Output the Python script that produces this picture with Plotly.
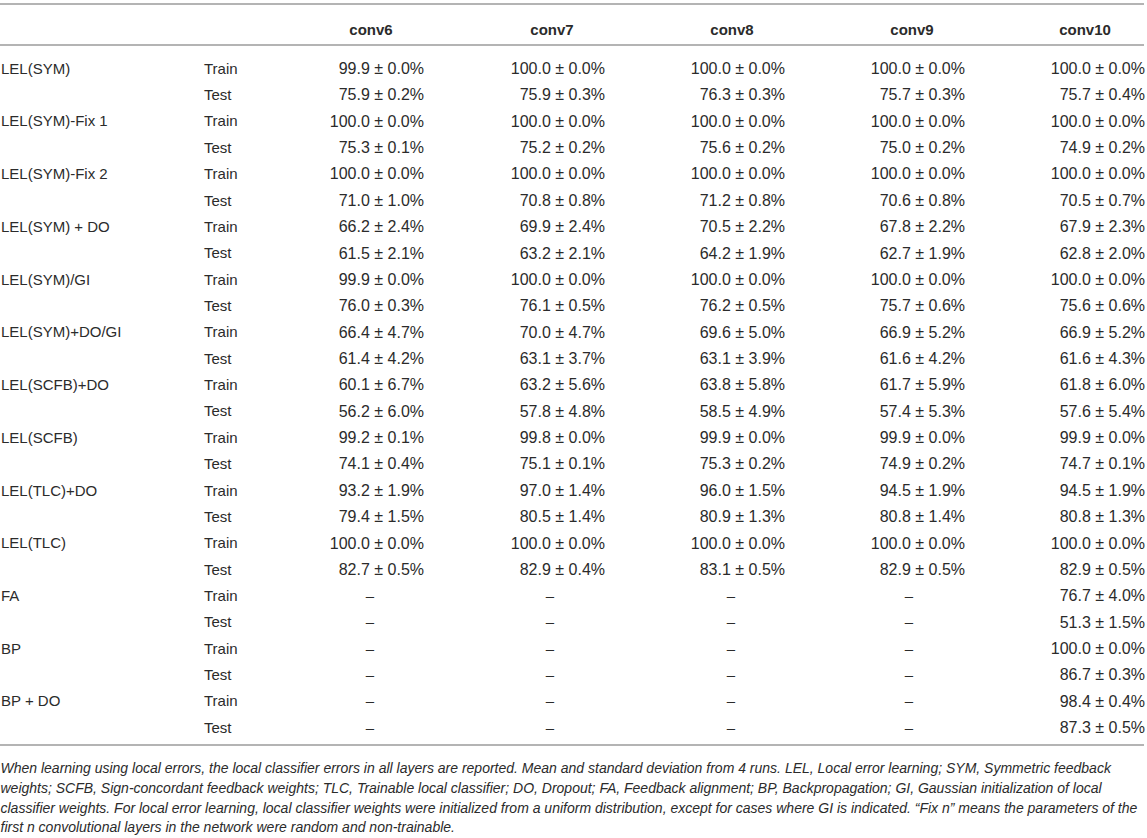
import plotly.graph_objects as go

methods = ["LEL(SYM)", "LEL(SYM)-Fix 1", "LEL(SYM)-Fix 2", "LEL(SYM) + DO", "LEL(SYM)/GI",
           "LEL(SYM)+DO/GI", "LEL(SCFB)+DO", "LEL(SCFB)", "LEL(TLC)+DO", "LEL(TLC)",
           "FA", "BP", "BP + DO"]
splits = ["Train", "Test"]
columns = ["conv6", "conv7", "conv8", "conv9", "conv10"]

# mean / sd per column, rows alternate Train, Test for each method; None = no value
conv6_mean = [99.9, 75.9, 100.0, 75.3, 100.0, 71.0, 66.2, 61.5, 99.9, 76.0, 66.4, 61.4, 60.1, 56.2,
              99.2, 74.1, 93.2, 79.4, 100.0, 82.7, None, None, None, None, None, None]
conv6_sd = [0.0, 0.2, 0.0, 0.1, 0.0, 1.0, 2.4, 2.1, 0.0, 0.3, 4.7, 4.2, 6.7, 6.0,
            0.1, 0.4, 1.9, 1.5, 0.0, 0.5, None, None, None, None, None, None]
conv7_mean = [100.0, 75.9, 100.0, 75.2, 100.0, 70.8, 69.9, 63.2, 100.0, 76.1, 70.0, 63.1, 63.2, 57.8,
              99.8, 75.1, 97.0, 80.5, 100.0, 82.9, None, None, None, None, None, None]
conv7_sd = [0.0, 0.3, 0.0, 0.2, 0.0, 0.8, 2.4, 2.1, 0.0, 0.5, 4.7, 3.7, 5.6, 4.8,
            0.0, 0.1, 1.4, 1.4, 0.0, 0.4, None, None, None, None, None, None]
conv8_mean = [100.0, 76.3, 100.0, 75.6, 100.0, 71.2, 70.5, 64.2, 100.0, 76.2, 69.6, 63.1, 63.8, 58.5,
              99.9, 75.3, 96.0, 80.9, 100.0, 83.1, None, None, None, None, None, None]
conv8_sd = [0.0, 0.3, 0.0, 0.2, 0.0, 0.8, 2.2, 1.9, 0.0, 0.5, 5.0, 3.9, 5.8, 4.9,
            0.0, 0.2, 1.5, 1.3, 0.0, 0.5, None, None, None, None, None, None]
conv9_mean = [100.0, 75.7, 100.0, 75.0, 100.0, 70.6, 67.8, 62.7, 100.0, 75.7, 66.9, 61.6, 61.7, 57.4,
              99.9, 74.9, 94.5, 80.8, 100.0, 82.9, None, None, None, None, None, None]
conv9_sd = [0.0, 0.3, 0.0, 0.2, 0.0, 0.8, 2.2, 1.9, 0.0, 0.6, 5.2, 4.2, 5.9, 5.3,
            0.0, 0.2, 1.9, 1.4, 0.0, 0.5, None, None, None, None, None, None]
conv10_mean = [100.0, 75.7, 100.0, 74.9, 100.0, 70.5, 67.9, 62.8, 100.0, 75.6, 66.9, 61.6, 61.8, 57.6,
               99.9, 74.7, 94.5, 80.8, 100.0, 82.9, 76.7, 51.3, 100.0, 86.7, 98.4, 87.3]
conv10_sd = [0.0, 0.4, 0.0, 0.2, 0.0, 0.7, 2.3, 2.0, 0.0, 0.6, 5.2, 4.3, 6.0, 5.4,
             0.0, 0.1, 1.9, 1.3, 0.0, 0.5, 4.0, 1.5, 0.0, 0.3, 0.4, 0.5]

caption = [
    "When learning using local errors, the local classifier errors in all layers are reported. Mean and standard deviation from 4 runs. LEL, Local error learning; SYM, Symmetric feedback",
    "weights; SCFB, Sign-concordant feedback weights; TLC, Trainable local classifier; DO, Dropout; FA, Feedback alignment; BP, Backpropagation; GI, Gaussian initialization of local",
    "classifier weights. For local error learning, local classifier weights were initialized from a uniform distribution, except for cases where GI is indicated. \u201cFix n\u201d means the parameters of the",
    "first n convolutional layers in the network were random and non-trainable.",
]

means = [conv6_mean, conv7_mean, conv8_mean, conv9_mean, conv10_mean]
sds = [conv6_sd, conv7_sd, conv8_sd, conv9_sd, conv10_sd]

TXT = "#2b2b2b"
FONT = "Liberation Sans, Arial, Helvetica, sans-serif"
FS = 15
DY = 0.076  # nudge text down a little

value_right = [424, 605, 785, 965, 1145]
dash_center = [370, 550, 731, 909]
header_center = [371, 552, 732, 912, 1085]

n_rows = len(methods) * len(splits)
rows = list(range(n_rows))
ty = [r + DY for r in rows]

fig = go.Figure()

# method names
fig.add_trace(go.Scatter(
    x=[1] * len(methods), y=ty[::2], text=methods, mode="text",
    textposition="middle right", textfont=dict(family=FONT, size=FS, color=TXT),
    hoverinfo="skip", showlegend=False, cliponaxis=False))
# train / test
fig.add_trace(go.Scatter(
    x=[204] * n_rows, y=ty, text=splits * len(methods), mode="text",
    textposition="middle right", textfont=dict(family=FONT, size=FS, color=TXT),
    hoverinfo="skip", showlegend=False, cliponaxis=False))

# headers
fig.add_trace(go.Scatter(
    x=header_center, y=[-1.48 + DY] * len(columns), text=["<b>%s</b>" % c for c in columns],
    mode="text", textposition="middle center",
    textfont=dict(family=FONT, size=FS, color=TXT),
    hoverinfo="skip", showlegend=False, cliponaxis=False))

for ci, (m, s) in enumerate(zip(means, sds)):
    vy = [r for r in rows if m[r] is not None]
    vt = ["%.1f \u00b1 %.1f%%" % (m[r], s[r]) for r in vy]
    fig.add_trace(go.Scatter(
        x=[value_right[ci]] * len(vy), y=[r + DY for r in vy], text=vt, mode="text",
        textposition="middle left", textfont=dict(family=FONT, size=16, color=TXT),
        hoverinfo="skip", showlegend=False, cliponaxis=False))
    dy = [r for r in rows if m[r] is None]
    if dy:
        fig.add_trace(go.Scatter(
            x=[dash_center[ci]] * len(dy), y=[r + DY for r in dy], text=["\u2013"] * len(dy),
            mode="text", textposition="middle center",
            textfont=dict(family=FONT, size=FS, color=TXT),
            hoverinfo="skip", showlegend=False, cliponaxis=False))

# caption
cap_y = [26.52 + DY, 27.28 + DY, 28.04 + DY, 28.79 + DY]
fig.add_trace(go.Scatter(
    x=[0.5] * len(caption), y=cap_y, text=["<i>%s</i>" % c for c in caption], mode="text",
    textposition="middle right", textfont=dict(family=FONT, size=14.0, color=TXT),
    hoverinfo="skip", showlegend=False, cliponaxis=False))

# rules
for yy in [-2.43, -0.87, 25.68]:
    fig.add_shape(type="line", xref="x", yref="y", x0=0, x1=1144, y0=yy, y1=yy,
                  line=dict(color="#b4b4b4", width=2))

fig.update_xaxes(range=[0, 1147], visible=False, fixedrange=True)
fig.update_yaxes(range=[29.21, -2.58], visible=False, fixedrange=True)
fig.update_layout(
    width=1147, height=838,
    margin=dict(l=0, r=0, t=0, b=0),
    paper_bgcolor="white", plot_bgcolor="white",
)

fig.write_html("out.html", config={"displayModeBar": False},
               post_script="document.body.style.margin='0';document.body.style.overflow='hidden';")
